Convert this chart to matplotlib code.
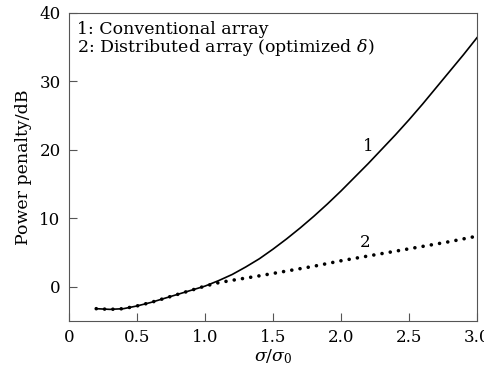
import numpy as np
import matplotlib
matplotlib.use('Agg')
import matplotlib.pyplot as plt

plt.rcParams['font.family'] = ['DejaVu Serif']
plt.rcParams['mathtext.fontset'] = 'dejavuserif'

# 曲线1：常规阵列
x1 = [0.2, 0.3, 0.4, 0.5, 0.6, 0.7, 0.8, 0.9, 1.0, 1.1, 1.2, 1.3, 1.4, 1.5,
      1.6, 1.7, 1.8, 1.9, 2.0, 2.1, 2.2, 2.3, 2.4, 2.5, 2.6, 2.7, 2.8, 2.9, 3.0]
y1 = [-3.2, -3.3, -3.2, -2.8, -2.3, -1.7, -1.1, -0.5, 0.1, 0.9, 1.8, 2.9, 4.1, 5.5,
      7.0, 8.6, 10.3, 12.1, 14.0, 16.0, 18.0, 20.1, 22.2, 24.4, 26.7, 29.1, 31.5,
      33.9, 36.4]

# 曲线2：分布式阵列（优化δ）
x2 = [0.2, 0.3, 0.4, 0.5, 0.6, 0.7, 0.8, 0.9, 1.0, 1.1, 1.2, 1.4, 1.6, 1.8,
      2.0, 2.2, 2.4, 2.6, 2.8, 3.0]
y2 = [-3.2, -3.3, -3.2, -2.8, -2.3, -1.7, -1.1, -0.5, 0.1, 0.6, 0.95, 1.6, 2.3, 3.0,
      3.8, 4.5, 5.2, 5.9, 6.6, 7.4]

xticks = [0, 0.5, 1.0, 1.5, 2.0, 2.5, 3.0]
xticklabels = ['0', '0.5', '1.0', '1.5', '2.0', '2.5', '3.0']
yticks = [0, 10, 20, 30, 40]

fig = plt.figure(figsize=(4.84, 3.68), dpi=100)
ax = fig.add_axes([0.1426, 0.1277, 0.843, 0.837])

ax.plot(x1, y1, color='black', lw=1.2)
ax.plot(x2, y2, color='black', lw=2.6, linestyle=(0, (0.01, 2.3)),
        dash_capstyle='round')

ax.set_xlim(0, 3.0)
ax.set_ylim(-5, 40)
ax.set_xticks(xticks)
ax.set_xticklabels(xticklabels)
ax.set_yticks(yticks)
ax.tick_params(direction='in', length=6, labelsize=12, color='#555555', pad=6)
for s in ax.spines.values():
    s.set_color('#555555')

ax.set_xlabel(r'$\sigma/\sigma_0$', fontsize=12.5, labelpad=1)
ax.set_ylabel('Power penalty/dB', fontsize=12.5, labelpad=5)

ax.text(0.02, 0.975, '1: Conventional array\n2: Distributed array (optimized $\\delta$)',
        transform=ax.transAxes, va='top', ha='left', fontsize=12.5, linespacing=0.95)
ax.text(2.2, 20.5, '1', fontsize=12, ha='center', va='center')
ax.text(2.18, 6.5, '2', fontsize=12, ha='center', va='center')

plt.savefig('out.png', dpi=100)
